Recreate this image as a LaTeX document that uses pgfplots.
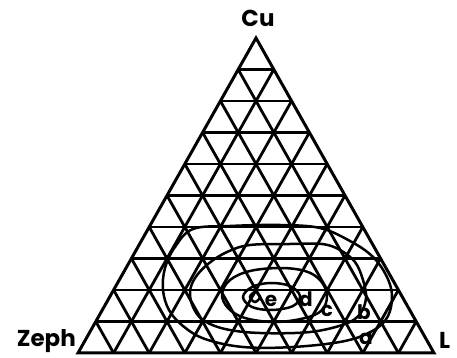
\documentclass[border=0pt]{standalone}
\usepackage{pgfplots}
\pgfplotsset{compat=1.18}
\usepackage{fontspec}
\setmainfont{Poppins}
\begin{document}
\begin{tikzpicture}
\begin{axis}[scale only axis, width=457pt, height=358pt,
  xmin=0, xmax=457, ymin=0, ymax=358, hide axis, clip=false]
\addplot[draw=none] coordinates {(0,0) (457,358)};
% triangle outline
\addplot[black, line width=3pt, line join=miter] coordinates {(78,5) (434,5) (256,320) (78,5) (434,5)};
% horizontal grid lines
\pgfplotsset{gridl/.style={black, line width=2.8pt}}
\addplot[gridl] coordinates {(95.8,36.5) (416.2,36.5)};
\addplot[gridl] coordinates {(113.6,68) (398.4,68)};
\addplot[gridl] coordinates {(131.4,99.5) (380.6,99.5)};
\addplot[gridl] coordinates {(149.2,131) (362.8,131)};
\addplot[gridl] coordinates {(167,162.5) (345,162.5)};
\addplot[gridl] coordinates {(184.8,194) (327.2,194)};
\addplot[gridl] coordinates {(202.6,225.5) (309.4,225.5)};
\addplot[gridl] coordinates {(220.4,257) (291.6,257)};
\addplot[gridl] coordinates {(238.2,288.5) (273.8,288.5)};
% lines parallel to right edge
\addplot[gridl] coordinates {(113.6,5) (95.8,36.5)};
\addplot[gridl] coordinates {(149.2,5) (113.6,68)};
\addplot[gridl] coordinates {(184.8,5) (131.4,99.5)};
\addplot[gridl] coordinates {(220.4,5) (149.2,131)};
\addplot[gridl] coordinates {(256,5) (167,162.5)};
\addplot[gridl] coordinates {(291.6,5) (184.8,194)};
\addplot[gridl] coordinates {(327.2,5) (202.6,225.5)};
\addplot[gridl] coordinates {(362.8,5) (220.4,257)};
\addplot[gridl] coordinates {(398.4,5) (238.2,288.5)};
% lines parallel to left edge
\addplot[gridl] coordinates {(113.6,5) (273.8,288.5)};
\addplot[gridl] coordinates {(149.2,5) (291.6,257)};
\addplot[gridl] coordinates {(184.8,5) (309.4,225.5)};
\addplot[gridl] coordinates {(220.4,5) (327.2,194)};
\addplot[gridl] coordinates {(256,5) (345,162.5)};
\addplot[gridl] coordinates {(291.6,5) (362.8,131)};
\addplot[gridl] coordinates {(327.2,5) (380.6,99.5)};
\addplot[gridl] coordinates {(362.8,5) (398.4,68)};
\addplot[gridl] coordinates {(398.4,5) (416.2,36.5)};
% contours
\pgfplotsset{cont/.style={black, line width=2.5pt, smooth cycle, tension=0.6}}
% a
\addplot[cont] coordinates {(193,129) (230,132) (280,133) (320,130) (350,117) (372,102) (386,83) (392,63) (388,42) (374,28) (345,17) (293,11) (243,11) (205,19) (183,32) (169,48) (163,68) (165,90) (175,111)};
% b
\addplot[cont] coordinates {(250,113) (290,114) (322,114) (340,108) (355,96) (363,78) (366,60) (360,44) (345,34) (310,26) (260,25) (225,29) (203,38) (193,51) (190,66) (195,80) (208,94) (227,106)};
% c
\addplot[cont] coordinates {(222,64) (230,78) (250,87) (280,90) (305,87) (320,78) (327,63) (322,48) (305,40) (275,36) (245,40) (228,50)};
% d
\addplot[cont] coordinates {(243,61) (252,71) (270,75) (290,72) (300,62) (293,52) (272,48) (252,51)};
% e
\addplot[cont] coordinates {(250,61) (255,66) (260,61) (255,56)};
% labels
\node[font=\fontsize{23}{23}\selectfont\bfseries] at (axis cs:258,340) {Cu};
\node[font=\fontsize{23}{23}\selectfont\bfseries, anchor=base east, inner sep=0pt] at (axis cs:76,11) {Zeph};
\node[font=\fontsize{23}{23}\selectfont\bfseries, anchor=base west, inner sep=0pt] at (axis cs:439,9) {L};
\node[font=\fontsize{20}{20}\selectfont\bfseries, inner sep=0pt] at (axis cs:271,57) {e};
\node[font=\fontsize{20}{20}\selectfont\bfseries, inner sep=0pt] at (axis cs:306,59) {d};
\node[font=\fontsize{20}{20}\selectfont\bfseries, inner sep=0pt] at (axis cs:327,47) {c};
\node[font=\fontsize{20}{20}\selectfont\bfseries, inner sep=0pt] at (axis cs:364,46) {b};
\node[font=\fontsize{20}{20}\selectfont\bfseries, inner sep=0pt] at (axis cs:366,19) {a};
\end{axis}
\end{tikzpicture}
\end{document}
